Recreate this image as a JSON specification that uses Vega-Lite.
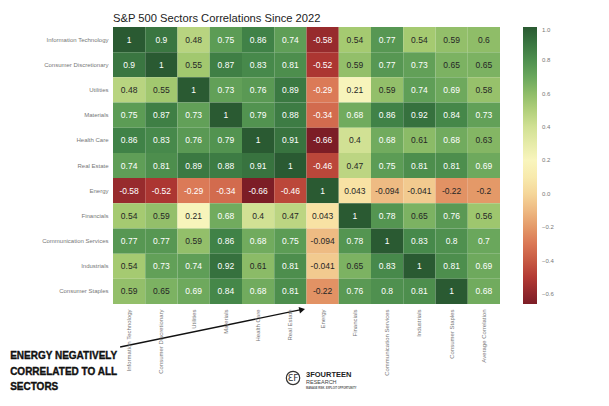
{
  "$schema": "https://vega.github.io/schema/vega-lite/v6.json",
  "autosize": "none",
  "width": 387,
  "height": 277,
  "padding": {"left": 113, "top": 27, "right": 109, "bottom": 102},
  "background": "white",
  "title": {"text": "S&P 500 Sectors Correlations Since 2022", "anchor": "start", "frame": "group", "fontSize": 11.2, "font": "Liberation Sans", "fontWeight": "normal", "color": "#222", "offset": 3},
  "config": {"view": {"stroke": null}, "font": "Liberation Sans"},
  "datasets": {
    "cells": [
      {"row":"Information Technology","col":"Information Technology","value":1},{"row":"Information Technology","col":"Consumer Discretionary","value":0.9},{"row":"Information Technology","col":"Utilities","value":0.48},{"row":"Information Technology","col":"Materials","value":0.75},{"row":"Information Technology","col":"Health Care","value":0.86},{"row":"Information Technology","col":"Real Estate","value":0.74},{"row":"Information Technology","col":"Energy","value":-0.58},{"row":"Information Technology","col":"Financials","value":0.54},{"row":"Information Technology","col":"Communication Services","value":0.77},{"row":"Information Technology","col":"Industrials","value":0.54},{"row":"Information Technology","col":"Consumer Staples","value":0.59},{"row":"Information Technology","col":"Average Correlation","value":0.6},
      {"row":"Consumer Discretionary","col":"Information Technology","value":0.9},{"row":"Consumer Discretionary","col":"Consumer Discretionary","value":1},{"row":"Consumer Discretionary","col":"Utilities","value":0.55},{"row":"Consumer Discretionary","col":"Materials","value":0.87},{"row":"Consumer Discretionary","col":"Health Care","value":0.83},{"row":"Consumer Discretionary","col":"Real Estate","value":0.81},{"row":"Consumer Discretionary","col":"Energy","value":-0.52},{"row":"Consumer Discretionary","col":"Financials","value":0.59},{"row":"Consumer Discretionary","col":"Communication Services","value":0.77},{"row":"Consumer Discretionary","col":"Industrials","value":0.73},{"row":"Consumer Discretionary","col":"Consumer Staples","value":0.65},{"row":"Consumer Discretionary","col":"Average Correlation","value":0.65},
      {"row":"Utilities","col":"Information Technology","value":0.48},{"row":"Utilities","col":"Consumer Discretionary","value":0.55},{"row":"Utilities","col":"Utilities","value":1},{"row":"Utilities","col":"Materials","value":0.73},{"row":"Utilities","col":"Health Care","value":0.76},{"row":"Utilities","col":"Real Estate","value":0.89},{"row":"Utilities","col":"Energy","value":-0.29},{"row":"Utilities","col":"Financials","value":0.21},{"row":"Utilities","col":"Communication Services","value":0.59},{"row":"Utilities","col":"Industrials","value":0.74},{"row":"Utilities","col":"Consumer Staples","value":0.69},{"row":"Utilities","col":"Average Correlation","value":0.58},
      {"row":"Materials","col":"Information Technology","value":0.75},{"row":"Materials","col":"Consumer Discretionary","value":0.87},{"row":"Materials","col":"Utilities","value":0.73},{"row":"Materials","col":"Materials","value":1},{"row":"Materials","col":"Health Care","value":0.79},{"row":"Materials","col":"Real Estate","value":0.88},{"row":"Materials","col":"Energy","value":-0.34},{"row":"Materials","col":"Financials","value":0.68},{"row":"Materials","col":"Communication Services","value":0.86},{"row":"Materials","col":"Industrials","value":0.92},{"row":"Materials","col":"Consumer Staples","value":0.84},{"row":"Materials","col":"Average Correlation","value":0.73},
      {"row":"Health Care","col":"Information Technology","value":0.86},{"row":"Health Care","col":"Consumer Discretionary","value":0.83},{"row":"Health Care","col":"Utilities","value":0.76},{"row":"Health Care","col":"Materials","value":0.79},{"row":"Health Care","col":"Health Care","value":1},{"row":"Health Care","col":"Real Estate","value":0.91},{"row":"Health Care","col":"Energy","value":-0.66},{"row":"Health Care","col":"Financials","value":0.4},{"row":"Health Care","col":"Communication Services","value":0.68},{"row":"Health Care","col":"Industrials","value":0.61},{"row":"Health Care","col":"Consumer Staples","value":0.68},{"row":"Health Care","col":"Average Correlation","value":0.63},
      {"row":"Real Estate","col":"Information Technology","value":0.74},{"row":"Real Estate","col":"Consumer Discretionary","value":0.81},{"row":"Real Estate","col":"Utilities","value":0.89},{"row":"Real Estate","col":"Materials","value":0.88},{"row":"Real Estate","col":"Health Care","value":0.91},{"row":"Real Estate","col":"Real Estate","value":1},{"row":"Real Estate","col":"Energy","value":-0.46},{"row":"Real Estate","col":"Financials","value":0.47},{"row":"Real Estate","col":"Communication Services","value":0.75},{"row":"Real Estate","col":"Industrials","value":0.81},{"row":"Real Estate","col":"Consumer Staples","value":0.81},{"row":"Real Estate","col":"Average Correlation","value":0.69},
      {"row":"Energy","col":"Information Technology","value":-0.58},{"row":"Energy","col":"Consumer Discretionary","value":-0.52},{"row":"Energy","col":"Utilities","value":-0.29},{"row":"Energy","col":"Materials","value":-0.34},{"row":"Energy","col":"Health Care","value":-0.66},{"row":"Energy","col":"Real Estate","value":-0.46},{"row":"Energy","col":"Energy","value":1},{"row":"Energy","col":"Financials","value":0.043},{"row":"Energy","col":"Communication Services","value":-0.094},{"row":"Energy","col":"Industrials","value":-0.041},{"row":"Energy","col":"Consumer Staples","value":-0.22},{"row":"Energy","col":"Average Correlation","value":-0.2},
      {"row":"Financials","col":"Information Technology","value":0.54},{"row":"Financials","col":"Consumer Discretionary","value":0.59},{"row":"Financials","col":"Utilities","value":0.21},{"row":"Financials","col":"Materials","value":0.68},{"row":"Financials","col":"Health Care","value":0.4},{"row":"Financials","col":"Real Estate","value":0.47},{"row":"Financials","col":"Energy","value":0.043},{"row":"Financials","col":"Financials","value":1},{"row":"Financials","col":"Communication Services","value":0.78},{"row":"Financials","col":"Industrials","value":0.65},{"row":"Financials","col":"Consumer Staples","value":0.76},{"row":"Financials","col":"Average Correlation","value":0.56},
      {"row":"Communication Services","col":"Information Technology","value":0.77},{"row":"Communication Services","col":"Consumer Discretionary","value":0.77},{"row":"Communication Services","col":"Utilities","value":0.59},{"row":"Communication Services","col":"Materials","value":0.86},{"row":"Communication Services","col":"Health Care","value":0.68},{"row":"Communication Services","col":"Real Estate","value":0.75},{"row":"Communication Services","col":"Energy","value":-0.094},{"row":"Communication Services","col":"Financials","value":0.78},{"row":"Communication Services","col":"Communication Services","value":1},{"row":"Communication Services","col":"Industrials","value":0.83},{"row":"Communication Services","col":"Consumer Staples","value":0.8},{"row":"Communication Services","col":"Average Correlation","value":0.7},
      {"row":"Industrials","col":"Information Technology","value":0.54},{"row":"Industrials","col":"Consumer Discretionary","value":0.73},{"row":"Industrials","col":"Utilities","value":0.74},{"row":"Industrials","col":"Materials","value":0.92},{"row":"Industrials","col":"Health Care","value":0.61},{"row":"Industrials","col":"Real Estate","value":0.81},{"row":"Industrials","col":"Energy","value":-0.041},{"row":"Industrials","col":"Financials","value":0.65},{"row":"Industrials","col":"Communication Services","value":0.83},{"row":"Industrials","col":"Industrials","value":1},{"row":"Industrials","col":"Consumer Staples","value":0.81},{"row":"Industrials","col":"Average Correlation","value":0.69},
      {"row":"Consumer Staples","col":"Information Technology","value":0.59},{"row":"Consumer Staples","col":"Consumer Discretionary","value":0.65},{"row":"Consumer Staples","col":"Utilities","value":0.69},{"row":"Consumer Staples","col":"Materials","value":0.84},{"row":"Consumer Staples","col":"Health Care","value":0.68},{"row":"Consumer Staples","col":"Real Estate","value":0.81},{"row":"Consumer Staples","col":"Energy","value":-0.22},{"row":"Consumer Staples","col":"Financials","value":0.76},{"row":"Consumer Staples","col":"Communication Services","value":0.8},{"row":"Consumer Staples","col":"Industrials","value":0.81},{"row":"Consumer Staples","col":"Consumer Staples","value":1},{"row":"Consumer Staples","col":"Average Correlation","value":0.68}
    ],
    "anchorIT": [{"row":"Consumer Staples","col":"Information Technology"}],
    "anchorEnergy": [{"row":"Consumer Staples","col":"Energy"}]
  },
  "layer": [
    {
      "data": {"name": "cells"},
      "mark": {"type": "rect"},
      "encoding": {
        "x": {"field": "col", "type": "nominal", "sort": null, "scale": {"domain": ["Information Technology","Consumer Discretionary","Utilities","Materials","Health Care","Real Estate","Energy","Financials","Communication Services","Industrials","Consumer Staples","Average Correlation"], "paddingInner": 0, "paddingOuter": 0},
          "axis": {"title": null, "labelAngle": -90, "labelFontSize": 6, "labelColor": "#777", "ticks": false, "domain": false, "labelPadding": 5, "labelLimit": 0}},
        "y": {"field": "row", "type": "nominal", "sort": null, "scale": {"domain": ["Information Technology","Consumer Discretionary","Utilities","Materials","Health Care","Real Estate","Energy","Financials","Communication Services","Industrials","Consumer Staples"], "paddingInner": 0, "paddingOuter": 0},
          "axis": {"title": null, "labelFontSize": 6, "labelColor": "#777", "ticks": false, "domain": false, "labelPadding": 5, "labelLimit": 0}},
        "color": {"field": "value", "type": "quantitative",
          "scale": {"domain": [-0.66, -0.5, -0.3, -0.1, 0.05, 0.2, 0.4, 0.55, 0.7, 0.85, 1], "range": ["#7c1d26", "#b33a34", "#da7755", "#eeb982", "#f8e4a6", "#f9f5bd", "#d1e194", "#a2c86f", "#6aa75c", "#428548", "#2a5a32"]},
          "legend": {"title": null, "orient": "right", "offset": 23, "padding": 0, "gradientLength": 277, "gradientThickness": 14, "values": [1, 0.8, 0.6, 0.4, 0.2, 0, -0.2, -0.4, -0.6], "format": ".1f", "labelFontSize": 6, "labelColor": "#777", "labelOffset": 5, "gradientStrokeWidth": 0}}
      }
    },
    {
      "data": {"name": "cells"},
      "mark": {"type": "text", "fontSize": 8.5, "font": "Liberation Sans"},
      "encoding": {
        "x": {"field": "col", "type": "nominal", "sort": null},
        "y": {"field": "row", "type": "nominal", "sort": null},
        "text": {"field": "value", "type": "nominal"},
        "color": {"condition": {"test": "datum.value >= 0.66 || datum.value <= -0.25", "value": "#ffffff"}, "value": "#262626"}
      }
    },
    {
      "data": {"name": "anchorIT"},
      "mark": {"type": "text", "align": "left", "baseline": "alphabetic", "dx": -119, "dy": 68, "fontSize": 10, "fontWeight": "bold", "font": "Liberation Sans", "color": "#111", "stroke": "#111", "strokeWidth": 0.35, "lineHeight": 15.5},
      "encoding": {
        "x": {"field": "col", "type": "nominal", "sort": null},
        "y": {"field": "row", "type": "nominal", "sort": null},
        "text": {"value": ["ENERGY NEGATIVELY", "CORRELATED TO ALL", "SECTORS"]}
      }
    },
    {
      "data": {"name": "anchorIT"},
      "mark": {"type": "rule", "color": "#111", "strokeWidth": 1.3, "xOffset": -9, "yOffset": 55.6, "x2Offset": 172, "y2Offset": 18.3},
      "encoding": {
        "x": {"field": "col", "type": "nominal", "sort": null},
        "y": {"field": "row", "type": "nominal", "sort": null},
        "x2": {"field": "col"},
        "y2": {"field": "row"}
      }
    },
    {
      "data": {"name": "anchorEnergy"},
      "mark": {"type": "point", "shape": "triangle-right", "filled": true, "color": "#111", "opacity": 1, "size": 45, "angle": -11.7, "xOffset": -20.5, "yOffset": 18.3},
      "encoding": {
        "x": {"field": "col", "type": "nominal", "sort": null},
        "y": {"field": "row", "type": "nominal", "sort": null}
      }
    },
    {
      "data": {"name": "anchorEnergy"},
      "mark": {"type": "point", "shape": "circle", "filled": false, "color": "#333", "strokeWidth": 1.2, "opacity": 1, "size": 180, "xOffset": -29.6, "yOffset": 86.6},
      "encoding": {
        "x": {"field": "col", "type": "nominal", "sort": null},
        "y": {"field": "row", "type": "nominal", "sort": null}
      }
    },
    {
      "data": {"name": "anchorEnergy"},
      "mark": {"type": "text", "align": "center", "baseline": "middle", "dx": -29.6, "dy": 86.6, "fontSize": 9, "font": "DejaVu Sans", "color": "#333"},
      "encoding": {
        "x": {"field": "col", "type": "nominal", "sort": null},
        "y": {"field": "row", "type": "nominal", "sort": null},
        "text": {"value": "ƐF"}
      }
    },
    {
      "data": {"name": "anchorEnergy"},
      "mark": {"type": "text", "align": "left", "baseline": "alphabetic", "dx": -16.6, "dy": 85.6, "fontSize": 7.5, "fontWeight": "bold", "font": "Liberation Sans", "color": "#222"},
      "encoding": {
        "x": {"field": "col", "type": "nominal", "sort": null},
        "y": {"field": "row", "type": "nominal", "sort": null},
        "text": {"value": "3FOURTEEN"}
      }
    },
    {
      "data": {"name": "anchorEnergy"},
      "mark": {"type": "text", "align": "left", "baseline": "alphabetic", "dx": -16.6, "dy": 92.6, "fontSize": 5.5, "font": "Liberation Sans", "color": "#444", "letterSpacing": 1.6},
      "encoding": {
        "x": {"field": "col", "type": "nominal", "sort": null},
        "y": {"field": "row", "type": "nominal", "sort": null},
        "text": {"value": "RESEARCH"}
      }
    },
    {
      "data": {"name": "anchorEnergy"},
      "mark": {"type": "text", "align": "left", "baseline": "alphabetic", "dx": -16.6, "dy": 97.6, "fontSize": 2.6, "font": "Liberation Sans", "fontWeight": "bold", "color": "#555"},
      "encoding": {
        "x": {"field": "col", "type": "nominal", "sort": null},
        "y": {"field": "row", "type": "nominal", "sort": null},
        "text": {"value": "MANAGE RISK. EXPLOIT OPPORTUNITY"}
      }
    }
  ]
}
